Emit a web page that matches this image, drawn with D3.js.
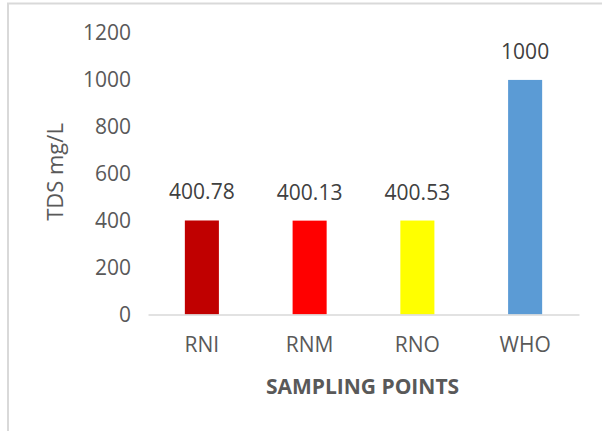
<!DOCTYPE html>
<html>
<head>
<meta charset="utf-8">
<script src="https://cdn.jsdelivr.net/npm/d3@7"></script>
<style>
  body { margin: 0; background: #fff; }
  svg { display: block; font-family: "Open Sans", sans-serif; }
</style>
</head>
<body>
<svg id="chart" width="602" height="431"></svg>
<script>
// chart data
var categories = ["RNI", "RNM", "RNO", "WHO"];
var values = [400.78, 400.13, 400.53, 1000];
var valueLabels = ["400.78", "400.13", "400.53", "1000"];
var barColors = ["#c00000", "#ff0000", "#ffff00", "#5b9bd5"];
var yTicks = [0, 200, 400, 600, 800, 1000, 1200];

var svg = d3.select("#chart");

// light frame, cut off at right/bottom like the source
svg.append("rect")
    .attr("x", 8).attr("y", 3.5)
    .attr("width", 640).attr("height", 460)
    .attr("fill", "none")
    .attr("stroke", "#d9d9d9")
    .attr("stroke-width", 2);

var margin = {top: 33, left: 148, right: 23, bottom: 117};
var width = 602 - margin.left - margin.right,
    height = 431 - margin.top - margin.bottom;

var g = svg.append("g")
    .attr("transform", "translate(" + margin.left + "," + margin.top + ")");

var x = d3.scaleBand()
    .domain(categories)
    .range([0, width])
    .padding(0);

var y = d3.scaleLinear()
    .domain([0, 1200])
    .range([height + 0.5, 0]);

var barW = x.bandwidth() * 0.316;

// y axis: labels only
var yAxis = g.append("g")
    .call(d3.axisLeft(y).tickValues(yTicks).tickFormat(d3.format("d")).tickSize(0).tickPadding(17));
yAxis.select(".domain").remove();
yAxis.selectAll("text")
    .attr("font-family", "Open Sans")
    .attr("font-size", 21)
    .attr("fill", "#595959");

// bars
g.selectAll(".bar")
    .data(values)
  .enter().append("rect")
    .attr("class", "bar")
    .attr("x", function(d, i) { return x(categories[i]) + x.bandwidth() / 2 - barW / 2; })
    .attr("y", function(d) { return y(d); })
    .attr("width", barW)
    .attr("height", function(d) { return y(0) - y(d); })
    .attr("fill", function(d, i) { return barColors[i]; });

// x axis
var xAxis = g.append("g")
    .attr("transform", "translate(0," + y(0) + ")")
    .call(d3.axisBottom(x).tickSize(0).tickPadding(23));
xAxis.select(".domain")
    .attr("stroke", "#d9d9d9")
    .attr("stroke-width", 1.5);
xAxis.selectAll("text")
    .attr("font-family", "Open Sans")
    .attr("font-size", 21)
    .attr("fill", "#595959");

// data labels
g.selectAll(".lbl")
    .data(values)
  .enter().append("text")
    .attr("class", "lbl")
    .attr("x", function(d, i) { return x(categories[i]) + x.bandwidth() / 2; })
    .attr("y", function(d) { return y(d) - 21; })
    .attr("text-anchor", "middle")
    .attr("font-size", 21)
    .attr("fill", "#404040")
    .text(function(d, i) { return valueLabels[i]; });

// axis titles
svg.append("text")
    .attr("x", margin.left + width / 2 - 1)
    .attr("y", 394)
    .attr("text-anchor", "middle")
    .attr("font-size", 21)
    .attr("font-weight", "bold")
    .attr("fill", "#595959")
    .text("SAMPLING POINTS");

svg.append("text")
    .attr("transform", "translate(63,172) rotate(-90)")
    .attr("text-anchor", "middle")
    .attr("font-size", 22)
    .attr("fill", "#595959")
    .text("TDS mg/L");
</script>
</body>
</html>
